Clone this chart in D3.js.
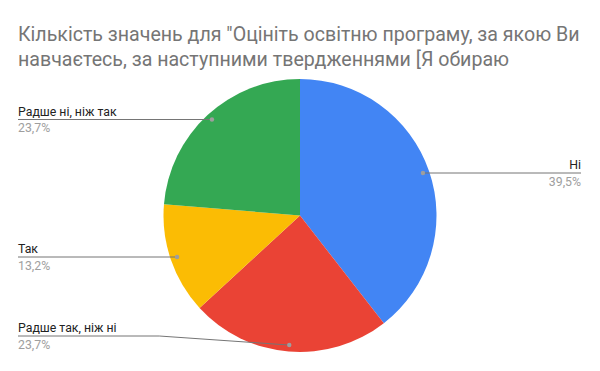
<!DOCTYPE html>
<html><head><meta charset="utf-8">
<script src="https://cdn.jsdelivr.net/npm/d3@7"></script>
<style>body{margin:0;background:#fff}svg{display:block}</style>
</head><body>
<svg id="c" width="600" height="371"></svg>
<script>
const titleLines = ["Кількість значень для \"Оцініть освітню програму, за якою Ви", "навчаєтесь, за наступними твердженнями [Я обираю"];
const categories = ["Ні", "Радше так, ніж ні", "Так", "Радше ні, ніж так"];
const counts = [15, 9, 5, 9];
const percentLabels = ["39,5%", "23,7%", "13,2%", "23,7%"];
const colors = ["#4285F4", "#EA4335", "#FBBC04", "#34A853"];

const svg = d3.select("#c");
const cx = 300, cy = 215.5, r = 136.5;

svg.append("g").selectAll("text").data(titleLines).join("text")
  .attr("x", 18).attr("y", (d, i) => 41 + i * 24.5)
  .attr("font-family", "Roboto, Arial, sans-serif").attr("font-size", 19.6)
  .attr("fill", "#757575").text(d => d);

const pie = d3.pie().sort(null).value(d => d);
const arcs = pie(counts);
const arc = d3.arc().innerRadius(0).outerRadius(r);
const g = svg.append("g").attr("transform", `translate(${cx},${cy})`);
g.selectAll("path").data(arcs).join("path").attr("d", arc).attr("fill", (d, i) => colors[i]);

const dotR = 130;
const labelY = {"Ні": 173, "Радше так, ніж ні": 336, "Так": 257, "Радше ні, ніж так": 119.5};
const lg = svg.append("g").attr("font-family", "Roboto, Arial, sans-serif").attr("font-size", 12.3);
arcs.forEach((a, i) => {
  const mid = (a.startAngle + a.endAngle) / 2;
  const px = cx + Math.sin(mid) * dotR, py = cy - Math.cos(mid) * dotR;
  const right = Math.sin(mid) > 0;
  const ly = labelY[categories[i]];
  const endX = right ? 581 : 18;
  const straight = Math.abs(py - ly) < 2;
  const pts = straight ? [[endX, ly], [px, ly]]
    : [[endX, ly], [right ? px + 130 : px - 130, ly], [px, py]];
  lg.append("path").attr("d", d3.line()(pts)).attr("fill", "none").attr("stroke", "#757575").attr("stroke-width", 1);
  lg.append("circle").attr("cx", px).attr("cy", straight ? ly : py).attr("r", 2.2).attr("fill", "#9e9e9e");
  lg.append("text").attr("x", endX).attr("y", ly - 4).attr("text-anchor", right ? "end" : "start")
    .attr("fill", "#222").text(categories[i]);
  lg.append("text").attr("x", endX).attr("y", ly + 12.5).attr("text-anchor", right ? "end" : "start")
    .attr("fill", "#9e9e9e").text(percentLabels[i]);
});
</script>
</body></html>
